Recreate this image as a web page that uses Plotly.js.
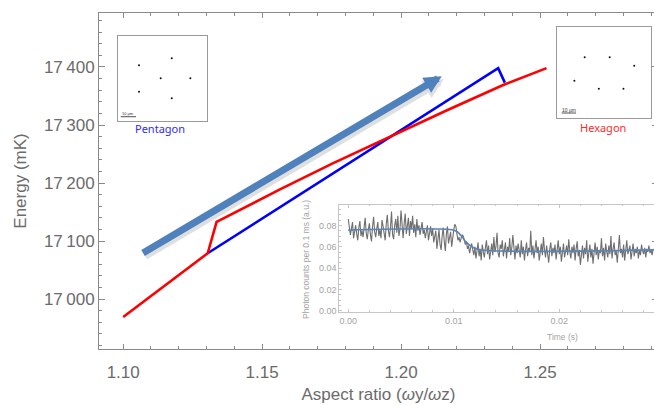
<!DOCTYPE html>
<html>
<head>
<meta charset="utf-8">
<script src="https://cdn.plot.ly/plotly-3.0.1.min.js"></script>
<style>
html,body{margin:0;padding:0;background:#fff;overflow:hidden;width:654px;height:405px;}
#chart{width:660px;height:405px;}
</style>
</head>
<body>
<div id="chart"></div>
<script>
// ---- main chart data ----
const redX  = [1.1000, 1.1304, 1.1336, 1.1450, 1.1564, 1.1750, 1.1923, 1.2163, 1.2367, 1.2523];
const redY  = [16969, 17079, 17133, 17161, 17189, 17233, 17272, 17325, 17369, 17398];
const blueX = [1.1304, 1.2349, 1.2373];
const blueY = [17079, 17398, 17373];

const xTickVals = [1.10, 1.15, 1.20, 1.25];
const xTickText = ['1.10', '1.15', '1.20', '1.25'];
const yTickVals = [17000, 17100, 17200, 17300, 17400];
const yTickText = ['17\u2009000', '17\u2009100', '17\u2009200', '17\u2009300', '17\u2009400'];

// ---- inset: photon counts per 0.1 ms vs time ----
const countsT0 = 0, countsDt = 0.0001;
const counts = [
 0.086,0.079,0.071,0.077,0.083,0.068,0.074,0.080,0.072,0.066,
 0.078,0.084,0.070,0.075,0.069,0.081,0.087,0.073,0.067,0.076,
 0.082,0.071,0.065,0.079,0.088,0.074,0.069,0.077,0.083,0.070,
 0.076,0.068,0.085,0.079,0.072,0.066,0.081,0.090,0.075,0.069,
 0.078,0.093,0.071,0.067,0.080,0.086,0.073,0.089,0.070,0.076,
 0.094,0.074,0.068,0.082,0.091,0.072,0.079,0.087,0.070,0.084,
 0.077,0.089,0.073,0.081,0.069,0.086,0.075,0.080,0.071,0.078,
 0.083,0.072,0.076,0.068,0.074,0.080,0.066,0.073,0.079,0.070,
 0.077,0.064,0.071,0.075,0.058,0.068,0.076,0.062,0.057,0.070,
 0.078,0.065,0.056,0.072,0.079,0.063,0.069,0.074,0.060,0.071,
 0.076,0.081,0.079,0.072,0.066,0.069,0.064,0.068,0.071,0.070,
 0.066,0.062,0.065,0.058,0.061,0.054,0.059,0.063,0.057,0.052,
 0.060,0.049,0.056,0.064,0.051,0.058,0.047,0.062,0.055,0.050,
 0.059,0.066,0.053,0.061,0.048,0.057,0.063,0.052,0.069,0.055,
 0.060,0.073,0.054,0.050,0.062,0.058,0.066,0.051,0.057,0.064,
 0.049,0.060,0.055,0.068,0.052,0.059,0.071,0.056,0.048,0.061,
 0.054,0.063,0.058,0.050,0.066,0.053,0.060,0.047,0.057,0.064,
 0.051,0.059,0.055,0.075,0.052,0.061,0.049,0.058,0.066,0.054,
 0.060,0.047,0.056,0.063,0.052,0.069,0.057,0.050,0.061,0.055,
 0.045,0.058,0.064,0.051,0.059,0.054,0.062,0.048,0.057,0.066,
 0.053,0.060,0.046,0.058,0.063,0.050,0.056,0.061,0.052,0.067,
 0.055,0.049,0.060,0.054,0.062,0.047,0.058,0.065,0.051,0.057,
 0.043,0.055,0.061,0.049,0.059,0.053,0.066,0.046,0.057,0.062,
 0.050,0.058,0.044,0.056,0.064,0.052,0.060,0.048,0.057,0.054,
 0.068,0.051,0.059,0.047,0.063,0.055,0.050,0.061,0.053,0.070,
 0.049,0.058,0.064,0.052,0.056,0.045,0.060,0.071,0.054,0.058,
 0.050,0.062,0.047,0.059,0.066,0.053,0.057,0.061,0.048,0.055,
 0.063,0.051,0.058,0.054,0.060,0.049,0.057,0.052,0.062,0.056,
 0.053,0.059,0.050,0.058,0.055,0.061,0.054,0.057,0.052,0.058
];
const fitT = [0, 0.0100, 0.0104, 0.0108, 0.0112, 0.0118, 0.0125, 0.0300];
const fitY = [0.0755, 0.0755, 0.0735, 0.0690, 0.0640, 0.0595, 0.0572, 0.0572];
const insetXTickVals = [0, 0.01, 0.02];
const insetXTickText = ['0.00', '0.01', '0.02'];
const insetYTickVals = [0, 0.02, 0.04, 0.06, 0.08];
const insetYTickText = ['0.00', '0.02', '0.04', '0.06', '0.08'];

// ---- ion crystal images (relative positions in frame) ----
const pentX = [0.239, 0.607, 0.483, 0.816, 0.239, 0.607];
const pentY = [0.654, 0.737, 0.501, 0.501, 0.342, 0.264];
const hexX  = [0.292, 0.559, 0.821, 0.182, 0.443, 0.706];
const hexY  = [0.670, 0.670, 0.578, 0.413, 0.325, 0.325];

const frameCol = '#8a8a8a';
const txtCol = '#6b6b6b';
const insetCol = '#c6c6c6';
const insetTxt = '#a3a3a3';

const traces = [
  {x: blueX, y: blueY, type: 'scatter', mode: 'lines', line: {color: '#0000ff', width: 2.6}, xaxis: 'x', yaxis: 'y', hoverinfo: 'skip'},
  {x: redX, y: redY, type: 'scatter', mode: 'lines', line: {color: '#ff0000', width: 2.6}, xaxis: 'x', yaxis: 'y', hoverinfo: 'skip'},
  {x0: countsT0, dx: countsDt, y: counts, type: 'scatter', mode: 'lines', line: {color: '#6e6e6e', width: 1.1}, xaxis: 'x2', yaxis: 'y2', hoverinfo: 'skip'},
  {x: fitT, y: fitY, type: 'scatter', mode: 'lines', line: {color: '#5b84b8', width: 1.6, shape: 'spline'}, xaxis: 'x2', yaxis: 'y2', hoverinfo: 'skip'},
  {x: pentX, y: pentY, type: 'scatter', mode: 'markers', marker: {color: '#111', size: 2}, xaxis: 'x3', yaxis: 'y3', hoverinfo: 'skip'},
  {x: hexX, y: hexY, type: 'scatter', mode: 'markers', marker: {color: '#111', size: 2}, xaxis: 'x4', yaxis: 'y4', hoverinfo: 'skip'}
];

const imgAxis = (dom, anchor) => ({domain: dom, anchor: anchor, range: [0, 1], showline: true, mirror: true, linecolor: '#9a9a9a', linewidth: 1, showgrid: false, zeroline: false, showticklabels: false, ticks: '', fixedrange: true});

const layout = {
  width: 660, height: 405,
  margin: {l: 99, r: 2, t: 13, b: 56},
  paper_bgcolor: '#fff', plot_bgcolor: 'rgba(0,0,0,0)',
  showlegend: false,
  font: {family: '"Liberation Sans", Arial, sans-serif', color: txtCol},
  xaxis: {
    domain: [0, 1], anchor: 'y',
    range: [1.0913, 1.2924],
    tickmode: 'array', tickvals: xTickVals, ticktext: xTickText,
    ticks: 'inside', ticklen: 5, tickwidth: 1, tickcolor: frameCol,
    ticklabelstandoff: 8,
    minor: {dtick: 0.01, tick0: 1.10, ticks: 'inside', ticklen: 3, tickcolor: frameCol, showgrid: false},
    showline: true, linecolor: frameCol, linewidth: 1, mirror: 'allticks',
    showgrid: false, zeroline: false,
    tickfont: {size: 17, color: txtCol},
    title: {text: 'Aspect ratio (<i>ω</i>y/<i>ω</i>z)', font: {size: 17, color: txtCol}, standoff: 6}
  },
  yaxis: {
    domain: [0, 1], anchor: 'x',
    range: [16914, 17493],
    tickmode: 'array', tickvals: yTickVals, ticktext: yTickText,
    ticks: 'inside', ticklen: 6, tickwidth: 1, tickcolor: frameCol,
    minor: {dtick: 20, tick0: 17000, ticks: 'inside', ticklen: 3, tickcolor: frameCol, showgrid: false},
    showline: true, linecolor: frameCol, linewidth: 1, mirror: 'allticks',
    showgrid: false, zeroline: false,
    tickfont: {size: 17, color: txtCol},
    title: {text: 'Energy (mK)', font: {size: 17, color: txtCol}, standoff: 12}
  },
  xaxis2: {
    domain: [0.4299, 1], anchor: 'y2',
    range: [-0.00085, 0.02936],
    tickmode: 'array', tickvals: insetXTickVals, ticktext: insetXTickText,
    ticks: 'inside', ticklen: 3, tickcolor: insetCol,
    minor: {dtick: 0.002, tick0: 0, ticks: 'inside', ticklen: 1.5, tickcolor: insetCol, showgrid: false},
    showline: true, linecolor: insetCol, linewidth: 1, mirror: 'allticks',
    showgrid: false, zeroline: false,
    tickfont: {size: 9, color: insetTxt}
  },
  yaxis2: {
    domain: [0.111, 0.4286], anchor: 'x2',
    range: [-0.00094, 0.0991],
    tickmode: 'array', tickvals: insetYTickVals, ticktext: insetYTickText,
    ticks: 'inside', ticklen: 3, tickcolor: insetCol,
    minor: {dtick: 0.005, tick0: 0, ticks: 'inside', ticklen: 1.5, tickcolor: insetCol, showgrid: false},
    showline: true, linecolor: insetCol, linewidth: 1, mirror: 'allticks',
    showgrid: false, zeroline: false,
    tickfont: {size: 9, color: insetTxt}
  },
  xaxis3: imgAxis([0.0335, 0.1927], 'y3'),
  yaxis3: imgAxis([0.6795, 0.9315], 'x3'),
  xaxis4: imgAxis([0.8199, 0.9875], 'y4'),
  yaxis4: imgAxis([0.6866, 0.9574], 'x4'),
  shapes: [
    {type: 'rect', xref: 'x2 domain', yref: 'y2 domain', x0: 0, x1: 1, y0: 0, y1: 1, fillcolor: '#fff', line: {width: 0}, layer: 'below'},
    {type: 'line', xref: 'x3', yref: 'y3', x0: 0.034, x1: 0.206, y0: 0.047, y1: 0.047, line: {color: '#222', width: 0.8}},
    {type: 'line', xref: 'x4', yref: 'y4', x0: 0.047, x1: 0.200, y0: 0.058, y1: 0.058, line: {color: '#222', width: 0.8}}
  ],
  annotations: [
    // arrow shadow + arrow
    {x: 1.2153, y: 17379, ax: 1.1073, ay: 17073, xref: 'x', yref: 'y', axref: 'x', ayref: 'y', text: '', showarrow: true, arrowhead: 2, arrowsize: 0.5, arrowwidth: 8, arrowcolor: 'rgba(0,0,0,0.12)'},
    {x: 1.2146, y: 17384, ax: 1.1066, ay: 17078, xref: 'x', yref: 'y', axref: 'x', ayref: 'y', text: '', showarrow: true, arrowhead: 2, arrowsize: 0.5, arrowwidth: 7, arrowcolor: '#4f81bd'},
    {x: 0.1091, y: 0.6577, xref: 'paper', yref: 'paper', xanchor: 'center', yanchor: 'middle', text: 'Pentagon', showarrow: false, font: {family: '"Noto Sans", "Open Sans", sans-serif', size: 11, color: '#2b2bff'}},
    {x: 0.9016, y: 0.6607, xref: 'paper', yref: 'paper', xanchor: 'center', yanchor: 'middle', text: 'Hexagon', showarrow: false, font: {family: '"Noto Sans", "Open Sans", sans-serif', size: 11, color: '#ff2b2b'}},
    {x: 0.116, y: 0.085, xref: 'x3', yref: 'y3', xanchor: 'center', yanchor: 'middle', text: '10 µm', showarrow: false, font: {size: 4, color: '#333'}},
    {x: 0.123, y: 0.095, xref: 'x4', yref: 'y4', xanchor: 'center', yanchor: 'middle', text: '10 µm', showarrow: false, font: {size: 5, color: '#333'}},
    {x: 0.8283, y: 0.0357, xref: 'paper', yref: 'paper', xanchor: 'center', yanchor: 'middle', text: 'Time (s)', showarrow: false, font: {size: 8.5, color: insetTxt}},
    {x: 0.3703, y: 0.2679, xref: 'paper', yref: 'paper', xanchor: 'center', yanchor: 'middle', text: 'Photon counts per 0.1 ms (a.u.)', textangle: -90, showarrow: false, font: {size: 8.5, color: insetTxt}}
  ]
};

Plotly.newPlot('chart', traces, layout, {displayModeBar: false, staticPlot: true});
</script>
</body>
</html>
